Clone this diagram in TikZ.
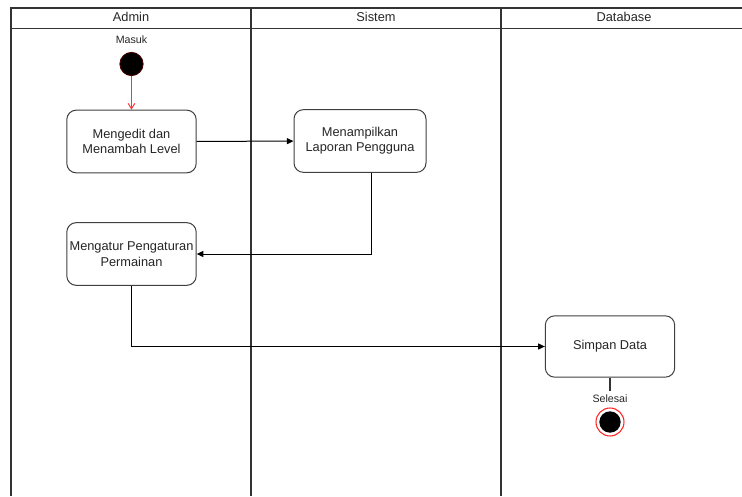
\documentclass[tikz,border=0pt]{standalone}
\usepackage{fontspec}
\setmainfont{Liberation Sans}
\usetikzlibrary{arrows.meta}
\tikzset{
  lane/.style={draw=black!80, line width=1.5pt},
  thin lane/.style={draw=black!80, line width=0.9pt},
  act/.style={draw=black!75, rounded corners=7pt, line width=0.75pt, fill=white,
    minimum width=97pt, minimum height=47pt, inner sep=1pt, align=center,
    font=\fontsize{9.6}{11.5}\selectfont, text=black!85},
  hdr/.style={font=\fontsize{9.6}{11}\selectfont, text=black!85, inner sep=0pt},
  lbl/.style={font=\fontsize{8}{9}\selectfont, text=black!85, inner sep=0pt},
  conn/.style={draw=black, line width=0.75pt, -{Triangle[length=5pt,width=4.5pt]}},
  redconn/.style={draw=red!80, line width=0.75pt, -{Straight Barb[length=4pt,width=5pt]}},
  startnode/.style={circle, fill=black, draw=black!70!red, line width=0.6pt, minimum size=17.5pt, inner sep=0pt},
  endring/.style={circle, draw=red!85, line width=0.8pt, fill=white, minimum size=21pt, inner sep=0pt},
  enddot/.style={circle, fill=black, minimum size=16pt, inner sep=0pt}
}
\begin{document}
\begin{tikzpicture}[x=0.75pt,y=-0.75pt]
\useasboundingbox (0,0) rectangle (742,496);
% swimlane frame
\draw[lane] (742,8) -- (11,8) -- (11,496);
\draw[thin lane] (11,28.5) -- (742,28.5);
\draw[lane] (250.5,8) -- (250.5,496);
\draw[lane] (501,8) -- (501,496);
\node[hdr] (h1) at (131,16.5) {Admin};
\node[hdr] (h2) at (376,16.5) {Sistem};
\node[hdr] (h3) at (624,16.5) {Database};
% start
\node[lbl] (masuk) at (131.5,40) {Masuk};
\node[startnode] (start) at (131.5,64) {};
% activities
\node[act] (a1) at (131.5,141.5) {Mengedit dan\\Menambah Level};
\node[act, minimum width=99pt] (a2) at (360,141) {Menampilkan\\Laporan Pengguna};
\node[act] (a3) at (131.5,254) {Mengatur Pengaturan\\Permainan};
\node[act, minimum height=46pt] (a4) at (610,346.5) {Simpan Data};
% end
\coordinate (c1) at (610,391);
\node[lbl] (selesai) at (610,398.5) {Selesai};
\node[endring] (finish) at (610,422) {};
\node[enddot] (finishdot) at (finish) {};
% connectors
\draw[redconn] (start) -- (a1);
\draw[conn] (a1) -- (a2);
\draw[conn] ([xshift=8.25pt]a2.south) |- (a3.east);
\draw[conn] (a3.south) |- (a4.west);
\draw[draw=black!80, line width=0.9pt] (a4.south) -- (c1);
\end{tikzpicture}
\end{document}
